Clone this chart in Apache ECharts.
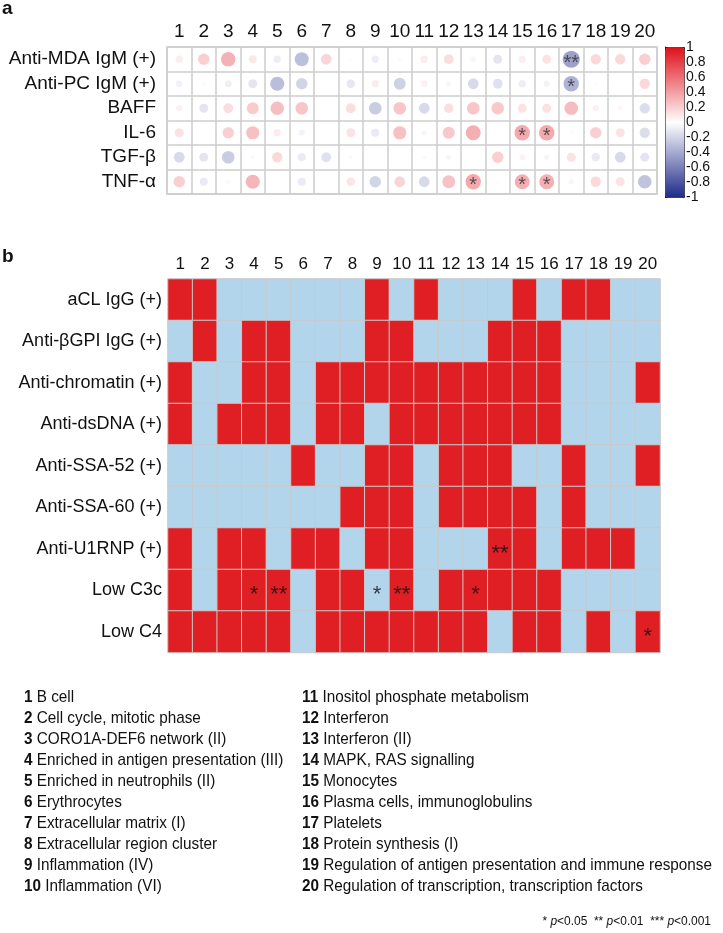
<!DOCTYPE html>
<html><head><meta charset="utf-8">
<script src="https://cdn.jsdelivr.net/npm/echarts@6/dist/echarts.min.js"></script>
<style>html,body{margin:0;padding:0;background:#fff}#c{width:723px;height:933px}</style>
</head><body><div id="c"></div>
<script>
// ---------- DATA ----------
const columns = ['1','2','3','4','5','6','7','8','9','10','11','12','13','14','15','16','17','18','19','20'];

// Panel a: correlations
const rowsA = ['Anti-MDA IgM (+)','Anti-PC IgM (+)','BAFF','IL-6','TGF-β','TNF-α'];
const corrMDA  = [0.10, 0.25, 0.40, 0.12,-0.10,-0.37, 0.22, 0.02,-0.10, 0.03, 0.10, 0.18, 0.06,-0.15, 0.09, 0.15,-0.55, 0.20, 0.20, 0.25];
const corrPC   = [-0.08,0.03,-0.09,-0.15,-0.38,-0.25, 0.00,-0.14, 0.10,-0.27, 0.08,-0.05,-0.22,-0.18,-0.10,-0.07,-0.45, 0.02, 0.01, 0.20];
const corrBAFF = [0.08,-0.15, 0.18, 0.27, 0.34, 0.30, 0.01, 0.18,-0.30, 0.30,-0.22, 0.17, 0.30, 0.29, 0.15, 0.16, 0.35, 0.08, 0.05,-0.20];
const corrIL6  = [0.16, 0.01, 0.25, 0.33, 0.10,-0.07, 0.01, 0.15,-0.12, 0.33,-0.05, 0.28, 0.42, 0.00, 0.45, 0.45,-0.02, 0.25, 0.15,-0.20];
const corrTGFb = [-0.22,-0.15,-0.30,-0.03, 0.20,-0.12,-0.18,-0.03, 0.01, 0.01, 0.03,-0.05, 0.01, 0.25, 0.07,-0.05, 0.15,-0.13,-0.22,-0.15];
const corrTNFa = [0.25,-0.12, 0.04, 0.38, 0.01,-0.12, 0.01, 0.14,-0.25, 0.22,-0.22, 0.32, 0.45, 0.02, 0.42, 0.42,-0.05, 0.20, 0.15,-0.35];
// significance marks panel a: [column index, row index, mark]
const sigA = [[16,0,'**'],[16,1,'*'],[14,3,'*'],[15,3,'*'],[12,5,'*'],[14,5,'*'],[15,5,'*']];

// Panel b: binary presence
const rowsB = ['aCL IgG (+)','Anti-βGPI IgG (+)','Anti-chromatin (+)','Anti-dsDNA (+)','Anti-SSA-52 (+)','Anti-SSA-60 (+)','Anti-U1RNP (+)','Low C3c','Low C4'];
const aCL       = [1,1,0,0,0,0,0,0,1,0,1,0,0,0,1,0,1,1,0,0];
const bGPI      = [0,1,0,1,1,0,0,0,1,1,0,0,0,1,1,1,0,0,0,0];
const chromatin = [1,0,0,1,1,0,1,1,1,1,1,1,1,1,1,1,0,0,0,1];
const dsDNA     = [1,0,1,1,1,0,1,1,0,1,1,1,1,1,1,1,0,0,0,0];
const ssa52     = [0,0,0,0,0,1,0,0,1,1,0,1,1,1,0,0,1,0,0,1];
const ssa60     = [0,0,0,0,0,0,0,1,1,1,0,1,1,1,1,0,1,0,0,0];
const u1rnp     = [1,0,1,1,0,1,1,0,1,1,0,0,0,1,1,0,1,1,1,0];
const lowC3c    = [1,0,1,1,1,0,1,1,0,1,0,1,1,1,1,1,0,0,0,0];
const lowC4     = [1,1,1,1,1,0,1,1,1,1,1,1,1,0,1,1,0,1,0,1];
const sigB = [[13,6,'**'],[3,7,'*'],[4,7,'**'],[8,7,'*'],[9,7,'**'],[12,7,'*'],[19,8,'*']];

const colorbarTicks = [-1,-0.8,-0.6,-0.4,-0.2,0,0.2,0.4,0.6,0.8,1];

const pathwaysLeft = [['1','B cell'],['2','Cell cycle, mitotic phase'],['3','CORO1A-DEF6 network (II)'],['4','Enriched in antigen presentation (III)'],['5','Enriched in neutrophils (II)'],['6','Erythrocytes'],['7','Extracellular matrix (I)'],['8','Extracellular region cluster'],['9','Inflammation (IV)'],['10','Inflammation (VI)']];
const pathwaysRight = [['11','Inositol phosphate metabolism'],['12','Interferon'],['13','Interferon (II)'],['14','MAPK, RAS signalling'],['15','Monocytes'],['16','Plasma cells, immunoglobulins'],['17','Platelets'],['18','Protein synthesis (I)'],['19','Regulation of antigen presentation and immune response'],['20','Regulation of transcription, transcription factors']];

// ---------- BUILD ----------
const FONT = "'Liberation Sans', Arial, Helvetica, sans-serif";
const corrRows = [corrMDA, corrPC, corrBAFF, corrIL6, corrTGFb, corrTNFa];
const dataA = [];
corrRows.forEach((arr, r) => arr.forEach((v, c) => dataA.push([c, r, v])));
const binRows = [aCL, bGPI, chromatin, dsDNA, ssa52, ssa60, u1rnp, lowC3c, lowC4];
const dataB = [];
binRows.forEach((arr, r) => arr.forEach((v, c) => dataB.push([c, r, v])));

const gridLine = {color:'#CDCDCD', width:1.5};

const graphic = [];
graphic.push({type:'text', x:2, y:9, style:{text:'a', fontSize:19, fontWeight:'bold', fontFamily:FONT, fill:'#111', verticalAlign:'middle'}});
graphic.push({type:'text', x:2, y:257, style:{text:'b', fontSize:19, fontWeight:'bold', fontFamily:FONT, fill:'#111', verticalAlign:'middle'}});
function legendItem(item, x, y) {
  return {type:'text', x:x, y:y, scaleX:0.9,
    style:{text:'{b|'+item[0]+'} '+item[1], fontSize:17, fontFamily:FONT, fill:'#111', verticalAlign:'middle',
      rich:{b:{fontWeight:'bold', fontSize:17, fontFamily:FONT, fill:'#111'}}}};
}
pathwaysLeft.forEach((it, i) => graphic.push(legendItem(it, 24, 697 + i*21)));
pathwaysRight.forEach((it, i) => graphic.push(legendItem(it, 302, 697 + i*21)));
graphic.push({type:'text', x:711, y:921, scaleX:0.92,
  style:{text:'* {i|p}<0.05  ** {i|p}<0.01  *** {i|p}<0.001', fontSize:13, fontFamily:FONT, fill:'#111', align:'right', verticalAlign:'middle',
    rich:{i:{fontStyle:'italic', fontSize:13, fontFamily:FONT, fill:'#111'}}}});

const option = {
  animation:false,
  textStyle:{fontFamily:FONT},
  graphic: graphic,
  grid:[
    {left:167, top:47, width:490, height:147, show:true, borderColor:'#CDCDCD', borderWidth:1.5, backgroundColor:'#fff'},
    {left:168, top:279, width:492, height:373.5},
    {left:665, top:47, width:19, height:150}
  ],
  xAxis:[
    {gridIndex:0, type:'category', data:columns, position:'top', axisLine:{show:false}, axisTick:{show:false},
      axisLabel:{fontSize:19, color:'#111', margin:6, interval:0}, splitLine:{show:true, interval:0, lineStyle:gridLine}},
    {gridIndex:1, type:'category', data:columns, position:'top', axisLine:{show:false}, axisTick:{show:false},
      axisLabel:{fontSize:17, color:'#111', margin:6, interval:0}},
    {gridIndex:2, type:'value', show:false, min:0, max:1}
  ],
  yAxis:[
    {gridIndex:0, type:'category', data:rowsA, inverse:true, axisLine:{show:false}, axisTick:{show:false},
      axisLabel:{fontSize:19, color:'#111', margin:11, interval:0}, splitLine:{show:true, interval:0, lineStyle:gridLine}},
    {gridIndex:1, type:'category', data:rowsB, inverse:true, axisLine:{show:false}, axisTick:{show:false},
      axisLabel:{fontSize:18, color:'#111', margin:6, interval:0}},
    {gridIndex:2, type:'value', min:-1, max:1, interval:0.2, position:'right',
      axisLine:{show:true, lineStyle:{color:'#222', width:1}}, axisTick:{show:true, length:4, lineStyle:{color:'#222'}},
      splitLine:{show:false},
      axisLabel:{fontSize:14, color:'#111', margin:2, fontFamily:FONT,
        formatter: v => String(Math.round(v*10)/10)}}
  ],
  visualMap:[
    {type:'continuous', min:-1, max:1, dimension:2, seriesIndex:0, calculable:false, hoverLink:false,
      inRange:{color:['#1F2A88','#FFFFFF','#E0101A']},
      left:665, top:47, itemWidth:19, itemHeight:150, padding:0, text:null,
      borderColor:'#222', borderWidth:1},
    {type:'piecewise', show:false, dimension:2, seriesIndex:2,
      pieces:[{value:0, color:'#B3D5EB'},{value:1, color:'#DF1F23'}]}
  ],
  series:[
    {type:'scatter', xAxisIndex:0, yAxisIndex:0, data:dataA, z:3,
      symbolSize: v => Math.sqrt(Math.abs(v[2]))*23},
    {type:'scatter', xAxisIndex:0, yAxisIndex:0, z:4, symbolSize:0,
      data: sigA.map(s => ({value:[s[0], s[1]], mark:s[2]})),
      label:{show:true, position:'inside', formatter: p => p.data.mark, fontSize:20, color:'#333', offset:[0,4]}},
    {type:'heatmap', xAxisIndex:1, yAxisIndex:1, data:dataB,
      itemStyle:{borderColor:'#C9C9C9', borderWidth:1}},
    {type:'scatter', xAxisIndex:1, yAxisIndex:1, z:5, symbolSize:0,
      data: sigB.map(s => ({value:[s[0], s[1]], mark:s[2]})),
      label:{show:true, position:'inside', formatter: p => p.data.mark, fontSize:22, color:'#111', offset:[0,5]}}
  ]
};
const chart = echarts.init(document.getElementById('c'), null, {renderer:'canvas'});
chart.setOption(option);
</script></body></html>
